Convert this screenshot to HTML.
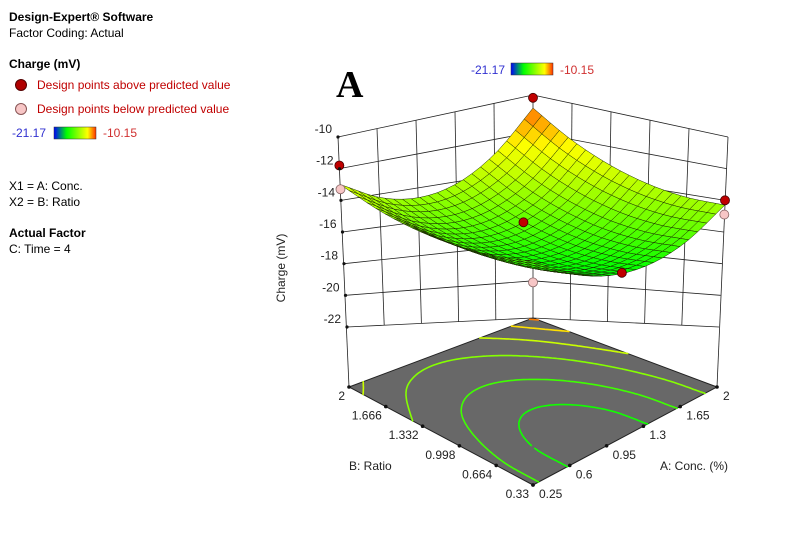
<!DOCTYPE html>
<html><head><meta charset="utf-8">
<style>
html,body{margin:0;padding:0;background:#fff;}
svg{display:block;font-family:"Liberation Sans",sans-serif;}
</style></head>
<body>
<svg id="chart" width="799" height="533" viewBox="0 0 799 533" xmlns="http://www.w3.org/2000/svg">
  <defs>
    <linearGradient id="cbar" x1="0" x2="1" y1="0" y2="0">
      <stop offset="0" stop-color="#0000ff"/>
      <stop offset="0.3" stop-color="#00ff00"/>
      <stop offset="0.8" stop-color="#ffff00"/>
      <stop offset="1" stop-color="#ff3000"/>
    </linearGradient>
  </defs>
  <g font-size="12" fill="#000">
    <text x="9" y="21" font-weight="bold">Design-Expert® Software</text>
    <text x="9" y="37">Factor Coding: Actual</text>
    <text x="9" y="68" font-weight="bold">Charge (mV)</text>
    <circle cx="21" cy="85" r="5.5" fill="#b00000" stroke="#500" stroke-width="1"/>
    <text x="37" y="89" fill="#c00000">Design points above predicted value</text>
    <circle cx="21" cy="109" r="5.5" fill="#f7c6c6" stroke="#855" stroke-width="1"/>
    <text x="37" y="113" fill="#c00000">Design points below predicted value</text>
    <text x="12" y="137" fill="#3030d0">-21.17</text>
    <rect x="54" y="127" width="42" height="12" fill="url(#cbar)" stroke="#333" stroke-width="0.5"/>
    <text x="103" y="137" fill="#d03030">-10.15</text>
    <text x="9" y="190">X1 = A: Conc.</text>
    <text x="9" y="206">X2 = B: Ratio</text>
    <text x="9" y="237" font-weight="bold">Actual Factor</text>
    <text x="9" y="253">C: Time = 4</text>
  </g>
  <text x="336" y="97" font-family="'Liberation Serif',serif" font-weight="bold" font-size="38">A</text>
  <g font-size="12">
    <text x="471" y="74" fill="#3030d0">-21.17</text>
    <rect x="511" y="63" width="42" height="12" fill="url(#cbar)" stroke="#333" stroke-width="0.5"/>
    <text x="560" y="74" fill="#d03030">-10.15</text>
  </g>
  <g id="floor"></g>
  <g id="box"></g>
  <g id="surface"></g>
  <g id="points"></g>
  <g id="labels" font-size="12" fill="#222"></g>
</svg>
<script>
// ---- data ----
const aTicks = ["0.25","0.6","0.95","1.3","1.65","2"];
const bTicks = ["0.33","0.664","0.998","1.332","1.666","2"];
const zTicks = [-10,-12,-14,-16,-18,-20,-22];
const zMin = -21.17, zMax = -10.15;
// surface values: rows = A index (0.25..2), cols = B index (0.33..2)
const zRowA0 = [-16.30,-16.25,-15.89,-15.23,-14.27,-13.00];
const zRowA1 = [-17.56,-17.50,-17.13,-16.46,-15.48,-14.20];
const zRowA2 = [-18.00,-17.92,-17.54,-16.86,-15.87,-14.58];
const zRowA3 = [-17.60,-17.51,-17.12,-16.42,-15.42,-14.12];
const zRowA4 = [-16.36,-16.26,-15.86,-15.15,-14.14,-12.82];
const zRowA5 = [-14.30,-14.19,-13.77,-13.05,-12.03,-10.70];
const contourLevels = [-17.5,-16.5,-15,-13.5,-12,-10.9];
// design points: normalized A, normalized B, value, above?
const ptA = [0, 0, 1, 1, 1, 0, 0.45, 0.47];
const ptB = [1, 1, 1, 0, 0, 0, 0.5, 0.0];
const ptZ = [-11.8, -13.3, -10.15, -14.0, -14.9, -17.9, -15.3, -17.9];
const ptAbove = [1, 0, 1, 1, 0, 0, 1, 1];

const grid = [zRowA0,zRowA1,zRowA2,zRowA3,zRowA4,zRowA5];
const NS = "http://www.w3.org/2000/svg";
const BOT = {F:[533,336],R:[719,327],B:[533,318],L:[347,327]};
const TOP = {F:[533,179],R:[728,137],B:[533,95],L:[338,137]};
const FLR = {F:[533,485],R:[717,387],B:[533,318],L:[349,387]};
function quad(Q,a,b){
  const w=[(1-a)*(1-b),a*(1-b),a*b,(1-a)*b];
  return [Q.F[0]*w[0]+Q.R[0]*w[1]+Q.B[0]*w[2]+Q.L[0]*w[3],
          Q.F[1]*w[0]+Q.R[1]*w[1]+Q.B[1]*w[2]+Q.L[1]*w[3]];
}
function P(a,b,z){
  const t=(z+22)/12, p=quad(BOT,a,b), q=quad(TOP,a,b);
  return [p[0]+(q[0]-p[0])*t, p[1]+(q[1]-p[1])*t];
}
function gv(i,j){
  const n=grid.length-1;
  // linear extrapolation beyond edges
  if(i<0) return 2*gv(0,j)-gv(1,j);
  if(i>n) return 2*gv(n,j)-gv(n-1,j);
  if(j<0) return 2*gv(i,0)-gv(i,1);
  if(j>n) return 2*gv(i,n)-gv(i,n-1);
  return grid[i][j];
}
function cr(p0,p1,p2,p3,t){
  return 0.5*((2*p1)+(-p0+p2)*t+(2*p0-5*p1+4*p2-p3)*t*t+(-p0+3*p1-3*p2+p3)*t*t*t);
}
function zAt(a,b){
  const n=grid.length-1;
  let fi=a*n, fj=b*n;
  let i=Math.min(Math.floor(fi),n-1), j=Math.min(Math.floor(fj),n-1);
  const u=fi-i, v=fj-j;
  const col=[];
  for(let di=-1;di<=2;di++){
    col.push(cr(gv(i+di,j-1),gv(i+di,j),gv(i+di,j+1),gv(i+di,j+2),v));
  }
  return cr(col[0],col[1],col[2],col[3],u);
}
const stops=[[0,[0,0,255]],[0.3,[0,255,0]],[0.8,[255,255,0]],[1,[255,60,0]]];
function cmap(z){
  let t=(z-zMin)/(zMax-zMin); t=Math.max(0,Math.min(1,t));
  for(let k=1;k<stops.length;k++){
    if(t<=stops[k][0]){
      const s=(t-stops[k-1][0])/(stops[k][0]-stops[k-1][0]);
      const c=stops[k-1][1].map((v,m)=>Math.round(v+(stops[k][1][m]-v)*s));
      return `rgb(${c[0]},${c[1]},${c[2]})`;
    }
  }
  return "rgb(255,60,0)";
}
function mk(tag,attrs,parent){
  const e=document.createElementNS(NS,tag);
  for(const k in attrs) e.setAttribute(k,attrs[k]);
  parent.appendChild(e); return e;
}
function pts(arr){return arr.map(p=>p[0].toFixed(1)+","+p[1].toFixed(1)).join(" ");}

// ---- floor ----
const floor=document.getElementById('floor');
const fpoly=mk('polygon',{points:pts([FLR.F,FLR.R,FLR.B,FLR.L]),fill:"#686868",stroke:"#222","stroke-width":"1"},floor);


const M=80;
const zf=[];
for(let i=0;i<=M;i++){zf.push([]);for(let j=0;j<=M;j++)zf[i].push(zAt(i/M,j/M));}
contourLevels.forEach(lv=>{
  let d="";
  for(let i=0;i<M;i++)for(let j=0;j<M;j++){
    const a0=i/M,a1=(i+1)/M,b0=j/M,b1=(j+1)/M;
    const c=[[a0,b0,zf[i][j]],[a1,b0,zf[i+1][j]],[a1,b1,zf[i+1][j+1]],[a0,b1,zf[i][j+1]]];
    const crs=[];
    for(let k=0;k<4;k++){
      const p=c[k],q=c[(k+1)%4];
      if((p[2]-lv)*(q[2]-lv)<0){
        const s=(lv-p[2])/(q[2]-p[2]);
        crs.push(quad(FLR,p[0]+(q[0]-p[0])*s,p[1]+(q[1]-p[1])*s));
      }
    }
    if(crs.length>=2) d+=`M${crs[0][0].toFixed(1)},${crs[0][1].toFixed(1)}L${crs[1][0].toFixed(1)},${crs[1][1].toFixed(1)}`;
    if(crs.length===4) d+=`M${crs[2][0].toFixed(1)},${crs[2][1].toFixed(1)}L${crs[3][0].toFixed(1)},${crs[3][1].toFixed(1)}`;
  }
  const path=mk('path',{d:d,stroke:cmap(lv),"stroke-width":"1.6",fill:"none","stroke-linecap":"round"},floor);
  
  
});

// ---- box ----
const box=document.getElementById('box');
function line(p,q,name,w){
  const l=mk('line',{x1:p[0],y1:p[1],x2:q[0],y2:q[1],stroke:"#222","stroke-width":w||"0.8"},box);
  
  
}
zTicks.forEach(z=>{
  line(P(0,1,z),P(1,1,z),'left-wall-gridline');
  line(P(1,1,z),P(1,0,z),'right-wall-gridline');
});
for(let k=1;k<5;k++){
  line(P(k/5,1,-22),P(k/5,1,-10),'left-wall-vgrid');
  line(P(1,1-k/5,-22),P(1,1-k/5,-10),'right-wall-vgrid');
}
line(P(0,1,-10),FLR.L,'left-edge');
line(P(1,0,-10),FLR.R,'right-edge');
line(P(1,1,-10),FLR.B,'back-edge');

// ---- surface ----
const surf=document.getElementById('surface');
const N=22, cells=[];
for(let i=0;i<N;i++)for(let j=0;j<N;j++)cells.push([i,j]);
cells.sort((p,q)=>(q[0]+q[1])-(p[0]+p[1]));
cells.forEach(([i,j])=>{
  const a0=i/N,a1=(i+1)/N,b0=j/N,b1=(j+1)/N;
  const z00=zAt(a0,b0),z10=zAt(a1,b0),z11=zAt(a1,b1),z01=zAt(a0,b1);
  const poly=mk('polygon',{points:pts([P(a0,b0,z00),P(a1,b0,z10),P(a1,b1,z11),P(a0,b1,z01)]),
    fill:cmap((z00+z10+z11+z01)/4),stroke:"#1a2a00","stroke-width":"0.5","stroke-linejoin":"round"},surf);
  
  
});

// ---- design points ----
const pg=document.getElementById('points');
ptA.forEach((a,k)=>{
  const p=P(a,ptB[k],ptZ[k]);
  const c=mk('circle',{cx:p[0],cy:p[1],r:4.5,fill:ptAbove[k]?"#c00000":"#f7c6c6",stroke:ptAbove[k]?"#400":"#866","stroke-width":"0.8"},pg);
  
  
});

// ---- labels ----
const lg=document.getElementById('labels');
function txt(x,y,s,anchor,name,extra){
  const t=mk('text',Object.assign({x:x,y:y,"text-anchor":anchor},extra||{}),lg);
  t.textContent=s;
  
  
  return t;
}
zTicks.forEach(z=>{
  const p=P(0,1,z);
  const d=mk('circle',{cx:p[0],cy:p[1],r:1.6,fill:"#111"},lg);
  
  
  txt(p[0]-6,p[1]-4,String(z),"end",'z-tick-label');
});
bTicks.forEach((s,k)=>{
  const b=k/(bTicks.length-1);
  const p=quad(FLR,0,b);
  const d=mk('circle',{cx:p[0],cy:p[1],r:1.8,fill:"#111"},lg);
  
  
  txt(p[0]-4,p[1]+13,s,"end",'b-tick-label');
});
aTicks.forEach((s,k)=>{
  const a=k/(aTicks.length-1);
  const p=quad(FLR,a,0);
  const d=mk('circle',{cx:p[0],cy:p[1],r:1.8,fill:"#111"},lg);
  
  
  txt(p[0]+6,p[1]+13,s,"start",'a-tick-label');
});
txt(349,470,"B: Ratio","start",'b-axis-title');
txt(660,470,"A: Conc. (%)","start",'a-axis-title');
txt(0,0,"Charge (mV)","middle",'z-axis-title',{transform:"translate(285,268) rotate(-90)"});
</script>
</body></html>
